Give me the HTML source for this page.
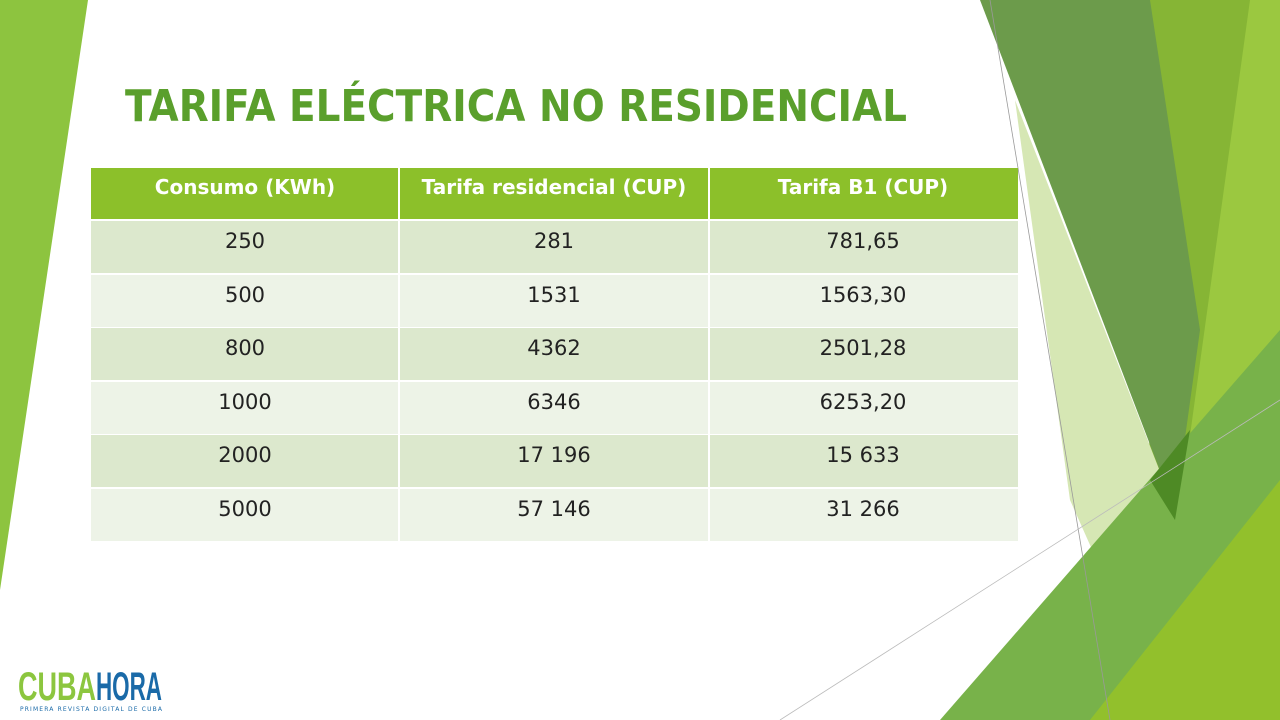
<!DOCTYPE html>
<html><head><meta charset="utf-8"><style>
html,body{margin:0;padding:0;background:#fff;}
svg{display:block;}
</style></head><body>
<svg width="1280" height="720" viewBox="0 0 1280 720" xmlns="http://www.w3.org/2000/svg" font-family="DejaVu Sans, Liberation Sans, sans-serif">
<rect width="1280" height="720" fill="#fff"/>
<polygon points="0,0 88,0 0,590" fill="#8dc43f"/>
<!-- right lime base -->
<polygon points="1148,0 1280,0 1280,720 1150,720" fill="#86b535"/>
<polygon points="1250,0 1280,0 1280,720 1225,720 1188,450" fill="#9bc840"/>
<!-- pale -->
<polygon points="1015,100 1175,510 1110,590 1070,500" fill="#d6e7b4"/>
<!-- dark -->
<polygon points="980,0 1150,0 1200,330 1175,510" fill="#6c9b4b"/>
<!-- bottom green -->
<polygon points="940,720 1280,330 1280,720" fill="#78b24a"/>
<polygon points="1150,480 1190,430 1175,520" fill="#4e8a25"/>
<polygon points="1090,720 1280,480 1280,720" fill="#92c02c"/>
<!-- thin lines -->
<line x1="990" y1="0" x2="1110" y2="720" stroke="#999" stroke-width="0.8"/>
<line x1="780" y1="720" x2="1280" y2="400" stroke="#bbb" stroke-width="0.8"/>
<!-- title -->
<text x="125" y="121" font-size="44" font-weight="bold" fill="#5a9f2c" textLength="782" lengthAdjust="spacingAndGlyphs" font-family="DejaVu Sans, sans-serif">TARIFA ELÉCTRICA NO RESIDENCIAL</text>
<!-- table -->
<rect x="91" y="168" width="927" height="51" fill="#8cc02a"/>
<g fill="#dce8cd">
<rect x="91" y="221" width="927" height="52"/>
<rect x="91" y="328" width="927" height="52"/>
<rect x="91" y="435" width="927" height="52"/>
</g>
<g fill="#edf3e7">
<rect x="91" y="275" width="927" height="52"/>
<rect x="91" y="382" width="927" height="52"/>
<rect x="91" y="489" width="927" height="52"/>
</g>
<g stroke="#fff" stroke-width="2">
<line x1="399" y1="168" x2="399" y2="541"/>
<line x1="709" y1="168" x2="709" y2="541"/>
</g>
<g font-size="20" font-weight="bold" fill="#fff" text-anchor="middle">
<text x="245" y="194">Consumo (KWh)</text>
<text x="554" y="194">Tarifa residencial (CUP)</text>
<text x="863" y="194">Tarifa B1 (CUP)</text>
</g>
<g font-size="21" fill="#222" text-anchor="middle">
<text x="245" y="248">250</text><text x="554" y="248">281</text><text x="863" y="248">781,65</text>
<text x="245" y="302">500</text><text x="554" y="302">1531</text><text x="863" y="302">1563,30</text>
<text x="245" y="355">800</text><text x="554" y="355">4362</text><text x="863" y="355">2501,28</text>
<text x="245" y="409">1000</text><text x="554" y="409">6346</text><text x="863" y="409">6253,20</text>
<text x="245" y="462">2000</text><text x="554" y="462">17 196</text><text x="863" y="462">15 633</text>
<text x="245" y="516">5000</text><text x="554" y="516">57 146</text><text x="863" y="516">31 266</text>
</g>
<!-- logo -->
<text x="18" y="700" font-size="40" font-weight="bold" fill="#8cc63f" textLength="78" lengthAdjust="spacingAndGlyphs" font-family="Liberation Sans Narrow, Liberation Sans, sans-serif">CUBA</text>
<text x="96" y="700" font-size="40" font-weight="bold" fill="#1a6aa8" textLength="66" lengthAdjust="spacingAndGlyphs" font-family="Liberation Sans Narrow, Liberation Sans, sans-serif">HORA</text>
<text x="20" y="711" font-size="6" fill="#1a6aa8" textLength="142" lengthAdjust="spacing">PRIMERA  REVISTA DIGITAL DE CUBA</text>
</svg>
</body></html>
